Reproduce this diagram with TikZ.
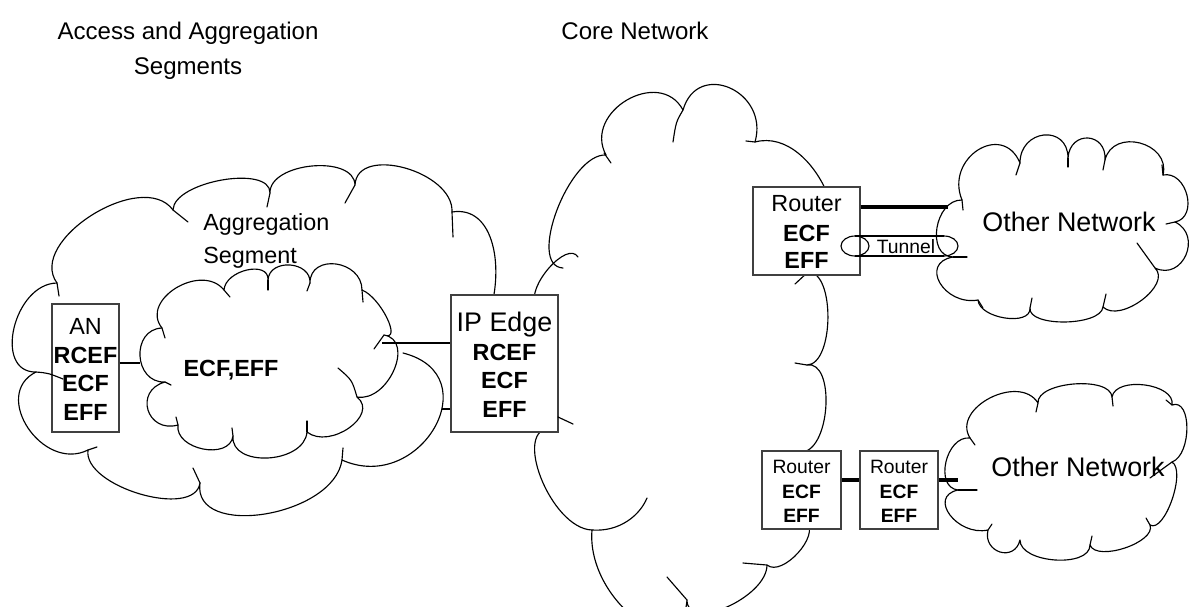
\documentclass[tikz,border=0pt]{standalone}
\usepackage{fontspec}
\setmainfont{Liberation Sans}
\usetikzlibrary{calc}
\newcommand\fA{\fontsize{13.3}{16}\selectfont}
\newcommand\fT{\fontsize{13.7}{16}\selectfont}
\newcommand\fB{\fontsize{15.3}{18}\selectfont}
\newcommand\fC{\fontsize{11}{13}\selectfont}
\newcommand\cloudlobe[3]{.. controls ($0.3333*(#1)+1.3333*(#2)-0.6667*(#3)$) and ($1.3333*(#2)+0.3333*(#3)-0.6667*(#1)$) .. (#3)}
\begin{document}
\begin{tikzpicture}[x=0.02cm,y=-0.02cm,
  cl/.style={line width=0.65pt, line join=round, line cap=round},
  hk/.style={line width=0.65pt, line cap=round},
  boxst/.style={draw=black!75, line width=0.8pt, fill=white, inner sep=0pt},
  tT/.style={font=\fT, inner sep=0pt, text height=9.8pt, text depth=0pt},
  tA/.style={font=\fA, inner sep=0pt, text height=9.5pt, text depth=0pt},
  tAb/.style={font=\fA\bfseries, inner sep=0pt, text height=9.5pt, text depth=0pt},
  tB/.style={font=\fB, inner sep=0pt, text height=11pt, text depth=0pt},
  tC/.style={font=\fC, inner sep=0pt, text height=7.9pt, text depth=0pt},
  tCb/.style={font=\fC\bfseries, inner sep=0pt, text height=7.9pt, text depth=0pt},
  conn/.style={line width=0.65pt},
  thickconn/.style={line width=2.4pt}]
\useasboundingbox (0,0) rectangle (1190,606);

% titles
\node[tT] (t1a) at (188,31) {Access and Aggregation};
\node[tT] (t1b) at (188,66) {Segments};
\node[tT] (t2) at (635,31) {Core Network};

% outer aggregation cloud
\draw[cl] (57,283) \cloudlobe{57,283}{14,328}{36,372} \cloudlobe{36,372}{28,428}{88,450}
  \cloudlobe{88,450}{140,494}{200,483} \cloudlobe{200,483}{265,514}{342,460}
  .. controls (420,495) and (490,375) .. (403,353);
\draw[cl] (488,318) .. controls (505,270) and (495,205) .. (452,212)
  \cloudlobe{452,212}{405,168}{355,185} \cloudlobe{355,185}{312,166}{270,193}
  \cloudlobe{270,193}{222,180}{173,210} \cloudlobe{173,210}{92,215}{57,283};
\draw[hk] (57,283) -- (59,296);
\draw[hk] (88,450) -- (97,447);
\draw[hk] (200,483) -- (193,468);
\draw[hk] (342,460) -- (343,448);
\draw[hk] (452,212) -- (453,237);
\draw[hk] (355,185) -- (345,203);
\draw[hk] (270,193) -- (267,207);
\draw[hk] (173,210) -- (188,222);

% inner aggregation cloud
\draw[cl] (162,328) \cloudlobe{162,328}{176,288}{224,290} \cloudlobe{224,290}{247,270}{268,280}
  \cloudlobe{268,280}{290,265}{310,283} \cloudlobe{310,283}{336,264}{362,290}
  \cloudlobe{362,290}{387,318}{384,335} \cloudlobe{384,335}{394,370}{357,397}
  \cloudlobe{357,397}{349,428}{307,432} \cloudlobe{307,432}{268,458}{233,436}
  \cloudlobe{233,436}{203,449}{178,425} \cloudlobe{178,425}{148,410}{165,382}
  \cloudlobe{165,382}{140,356}{162,328};
\draw[hk] (162,328) -- (165,338);
\draw[hk] (224,290) -- (230,297);
\draw[hk] (268,280) -- (268,290);
\draw[hk] (310,283) -- (307,291);
\draw[hk] (362,290) -- (363,302);
\draw[hk] (384,335) -- (374,349);
\draw[hk] (357,397) .. controls (352,380) .. (338,368);
\draw[hk] (307,432) -- (307,421);
\draw[hk] (233,436) -- (232,428);
\draw[hk] (178,425) -- (176,417);
\draw[hk] (165,382) -- (171,385);

% core cloud
\draw[cl] (563,268) \cloudlobe{563,268}{557,210}{606,155} \cloudlobe{606,155}{627,100}{683,110}
  \cloudlobe{683,110}{730,88}{755,142} \cloudlobe{755,142}{828,195}{808,273};
\draw[cl] (808,272) \cloudlobe{808,272}{828,318}{807,365} \cloudlobe{807,365}{826,405}{803,452}
  -- (806,522) \cloudlobe{806,522}{798,553}{767,565} \cloudlobe{767,565}{727,607}{687,600}
  \cloudlobe{687,600}{635,618}{592,530} \cloudlobe{592,530}{541,478}{552,428}
  -- (536,305) \cloudlobe{536,305}{549,268}{578,257};
\draw[hk] (604,153) -- (611,163);
\draw[hk] (683,110) .. controls (676,122) .. (673,142);
\draw[hk] (755,142) -- (746,141);
\draw[hk] (808,272) -- (795,284);
\draw[hk] (807,365) -- (795,363);
\draw[hk] (767,565) -- (743,563);
\draw[hk] (687,600) -- (667,577);
\draw[hk] (592,530) .. controls (620,532) and (640,515) .. (647,498);

% upper other network cloud
\draw[cl] (953,257) \cloudlobe{953,257}{937,228}{962,200} \cloudlobe{962,200}{978,150}{1020,163}
  \cloudlobe{1020,163}{1044,135}{1068,158} \cloudlobe{1068,158}{1088,138}{1105,160}
  \cloudlobe{1105,160}{1140,143}{1163,175} \cloudlobe{1163,175}{1187,195}{1175,222}
  \cloudlobe{1175,222}{1186,255}{1155,268} \cloudlobe{1155,268}{1142,300}{1103,307}
  \cloudlobe{1103,307}{1065,322}{1030,308} \cloudlobe{1030,308}{1005,318}{978,300}
  \cloudlobe{978,300}{940,283}{953,257};
\draw[hk] (953,257) -- (967,257);
\draw[hk] (962,200) -- (963,210);
\draw[hk] (1020,163) -- (1016,175);
\draw[hk] (1068,158) -- (1068,167);
\draw[hk] (1105,160) -- (1103,170);
\draw[hk] (1163,175) -- (1162,165);
\draw[hk] (1175,222) -- (1166,224);
\draw[hk] (1155,268) -- (1137,243);
\draw[hk] (1103,307) -- (1106,294);
\draw[hk] (1030,308) -- (1032,298);
\draw[hk] (978,300) -- (983,308);
\node[tB] (on1txt) at (1069,222) {Other Network};

% lower other network cloud
\draw[cl] (958,490) \cloudlobe{958,490}{946,462}{970,438} \cloudlobe{970,438}{990,398}{1038,403}
  \cloudlobe{1038,403}{1074,384}{1112,397} \cloudlobe{1112,397}{1145,385}{1172,405}
  \cloudlobe{1172,405}{1187,428}{1172,462} \cloudlobe{1172,462}{1172,500}{1150,525}
  \cloudlobe{1150,525}{1125,548}{1090,545} \cloudlobe{1090,545}{1055,560}{1020,540}
  \cloudlobe{1020,540}{1000,552}{988,530} \cloudlobe{988,530}{950,515}{958,490};
\draw[hk] (958,490) -- (977,490);
\draw[hk] (970,438) -- (975,445);
\draw[hk] (1038,403) -- (1036,412);
\draw[hk] (1112,397) -- (1113,406);
\draw[hk] (1172,405) -- (1166,400);
\draw[hk] (1172,462) -- (1150,478);
\draw[hk] (1150,525) -- (1146,518);
\draw[hk] (1090,545) -- (1092,536);
\draw[hk] (988,530) -- (992,524);
\node[tB] (on2txt) at (1078,467) {Other Network};

% cloud labels
\node[tA, anchor=west] (agg1) at (203,222) {Aggregation};
\node[tA, anchor=west] (agg2) at (203,255) {Segment};
\node[tAb] (inner) at (231,368) {ECF,EFF};

% AN box
\node[boxst, minimum width=1.34cm, minimum height=2.56cm] (an) at (85.5,368) {};
\node[tA] (an1) at (85.5,326) {AN};
\node[tAb] (an2) at (85.5,355) {RCEF};
\node[tAb] (an3) at (85.5,383) {ECF};
\node[tAb] (an4) at (85.5,412) {EFF};
\draw[hk] (36,372) .. controls (48,373) .. (63,379);

% IP edge box
\node[boxst, minimum width=2.14cm, minimum height=2.74cm] (ip) at (504.5,363.5) {};
\node[tB] (ip1) at (504.5,322) {IP Edge};
\node[tAb] (ip2) at (504.5,352) {RCEF};
\node[tAb] (ip3) at (504.5,380) {ECF};
\node[tAb] (ip4) at (504.5,409) {EFF};
\draw[hk] (558,417) -- (573,424);

% connectors in aggregation
\coordinate (inL) at (140,363);
\coordinate (inR) at (382,343);
\coordinate (outR) at (442,409);
\draw[conn] (an.east |- inL) -- (inL);
\draw[conn] (inR) -- (inR -| ip.west);
\draw[conn] (outR) -- (outR -| ip.west);

% top router
\node[boxst, minimum width=2.14cm, minimum height=1.76cm] (rt) at (806.5,231) {};
\node[tA] (rt1) at (806.5,203) {Router};
\node[tAb] (rt2) at (806.5,233) {ECF};
\node[tAb] (rt3) at (806.5,260) {EFF};
\coordinate (onA) at (948,207);
\draw[thickconn] (rt.east |- onA) -- (onA);

% tunnel
\coordinate (tunL) at (855,246);
\coordinate (tunR) at (944,246);
\draw[conn] (tunL) ellipse [x radius=0.28cm, y radius=0.2cm];
\draw[conn] (855,236) -- (944,236);
\draw[conn] (855,256) -- (944,256);
\draw[conn] (944,236) arc [start angle=90, end angle=-90, x radius=0.28cm, y radius=0.2cm];
\node[tC] (tun) at (906,247) {Tunnel};

% bottom routers
\node[boxst, minimum width=1.58cm, minimum height=1.56cm] (r1) at (801.5,490) {};
\node[tC] (r1a) at (801.5,467) {Router};
\node[tCb] (r1b) at (801.5,492) {ECF};
\node[tCb] (r1c) at (801.5,516) {EFF};
\node[boxst, minimum width=1.56cm, minimum height=1.56cm] (r2) at (899,490) {};
\node[tC] (r2a) at (899,467) {Router};
\node[tCb] (r2b) at (899,492) {ECF};
\node[tCb] (r2c) at (899,516) {EFF};
\coordinate (onB) at (958,480);
\draw[thickconn] (r1.east |- onB) -- (r2.west |- onB);
\draw[thickconn] (r2.east |- onB) -- (onB);
\end{tikzpicture}
\end{document}
